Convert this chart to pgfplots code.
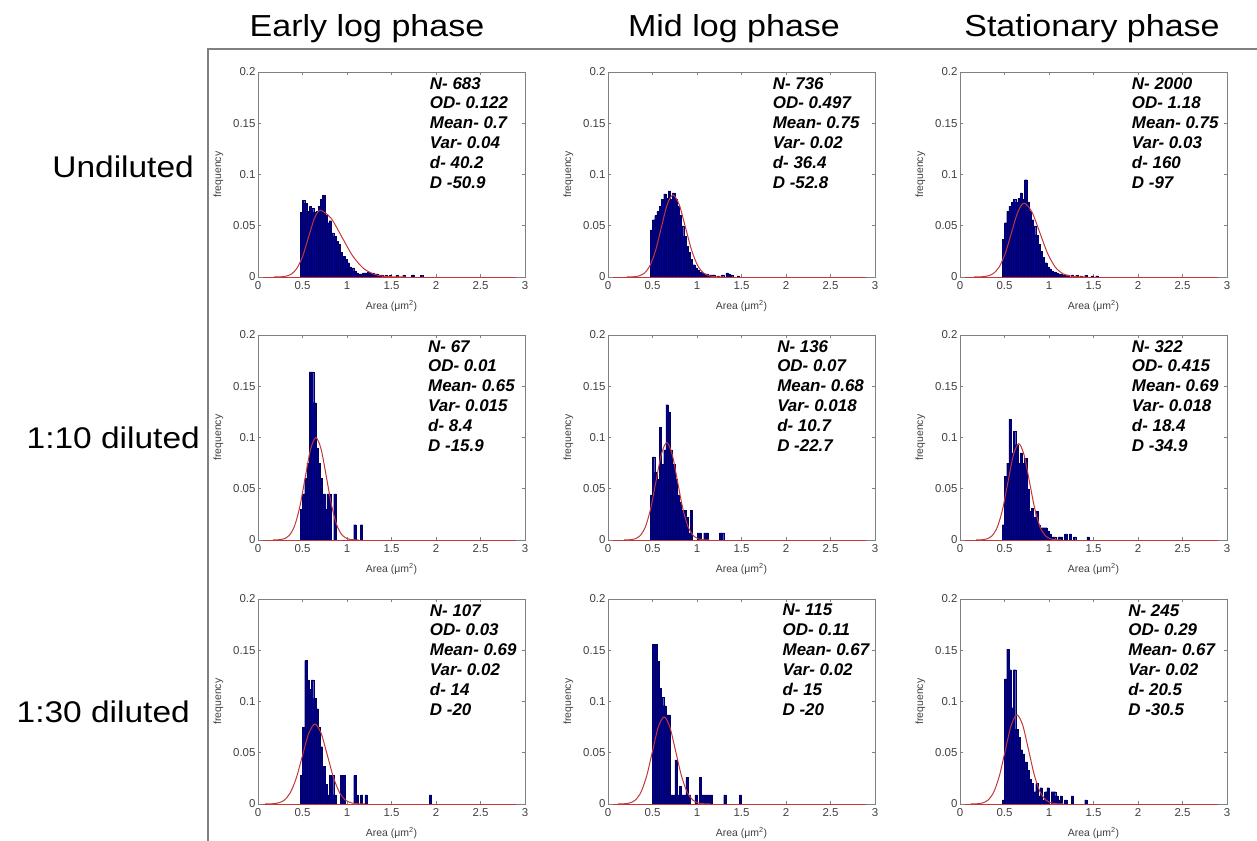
\documentclass[border=0pt]{standalone}
\usepackage{fontspec}
\setmainfont{Liberation Sans}
\newfontfamily\bigfont[FakeStretch=1.12]{Liberation Sans}
\usepackage{pgfplots}
\pgfplotsset{compat=1.18}
\definecolor{barblue}{RGB}{0,0,140}
\definecolor{fitred}{RGB}{195,55,55}
\definecolor{framegray}{RGB}{128,128,128}
\pgfplotsset{
  panel/.style={
    scale only axis, width=267bp, height=205bp, anchor=south west,
    xmin=0, xmax=3, ymin=0, ymax=0.2,
    xtick={0,0.5,1,1.5,2,2.5,3}, xticklabels={0,0.5,1,1.5,2,2.5,3},
    ytick={0,0.05,0.1,0.15,0.2}, yticklabels={0,0.05,0.1,0.15,0.2},
    tick align=inside, major tick length=3bp,
    axis line style={draw=gray, line width=0.8bp},
    every tick/.style={gray, line width=0.6bp},
    ticklabel style={font=\fontsize{11.5}{13}\selectfont, text=black!75},
    yticklabel style={xshift=1bp},
    xticklabel style={yshift=-1bp},
    xlabel={Area (μm\textsuperscript{2})}, ylabel={frequency},
    label style={font=\fontsize{10.5}{12}\selectfont, text=black!75},
    xlabel style={at={(axis description cs:0.5,-0.14)}, anchor=center},
    ylabel style={at={(axis description cs:-0.148,0.5)}, anchor=center},
  },
  bars/.style={ybar, bar width=0.025, bar shift=0pt, fill=barblue, draw=barblue!70!black, line width=0.2bp},
  fit/.style={fitred, line width=1bp, smooth, tension=0.5, mark=none},
  base/.style={fitred, line width=1bp, sharp plot, mark=none},
}
\tikzset{anno/.style={anchor=north west, inner sep=0pt, align=left, font=\fontsize{17}{20}\selectfont\bfseries\itshape}}
\begin{document}
\begin{tikzpicture}
\path[use as bounding box] (0,0) rectangle (1257bp,-841bp);
\draw[framegray, line width=2bp] (208bp,-841bp) -- (208bp,-49bp) -- (1257bp,-49bp);
\node[anchor=base, font=\fontsize{30.5}{34}\bigfont] at (367bp,-36bp) {Early log phase};
\node[anchor=base, font=\fontsize{30.5}{34}\bigfont] at (734bp,-36bp) {Mid log phase};
\node[anchor=base, font=\fontsize{30.5}{34}\bigfont] at (1092bp,-36bp) {Stationary phase};
\node[anchor=base east, font=\fontsize{30}{34}\bigfont, inner sep=0pt] at (194bp,-177bp) {Undiluted};
\node[anchor=base east, font=\fontsize{30}{34}\bigfont, inner sep=0pt] at (200bp,-448bp) {1:10 diluted};
\node[anchor=base east, font=\fontsize{30}{34}\bigfont, inner sep=0pt] at (190bp,-722bp) {1:30 diluted};

% ---------- Row 1 ----------
\begin{axis}[panel, at={(258bp,-277bp)}]
\addplot[bars] coordinates {(0.4875,0.063)(0.5125,0.075)(0.5375,0.072)(0.5625,0.064)(0.5875,0.069)(0.6125,0.067)(0.6375,0.063)(0.6625,0.064)(0.6875,0.069)(0.7125,0.076)(0.7375,0.080)(0.7625,0.060)(0.7875,0.053)(0.8125,0.055)(0.8375,0.043)(0.8625,0.040)(0.8875,0.035)(0.9125,0.032)(0.9375,0.024)(0.9625,0.020)(0.9875,0.017)(1.0125,0.014)(1.0375,0.010)(1.0625,0.009)(1.0875,0.006)(1.1125,0.004)(1.1375,0.003)(1.1625,0.003)(1.1875,0.004)(1.2125,0.004)(1.2375,0.005)(1.2625,0.004)(1.2875,0.004)(1.3125,0.003)(1.3375,0.003)(1.3625,0.002)(1.3875,0.002)(1.4375,0.0015)(1.4875,0.0015)(1.5625,0.0015)(1.6375,0.0015)(1.7375,0.002)(1.8375,0.0015)};
\addplot[base] coordinates {(0.06,0)(2.9,0)};
\addplot[fit] coordinates {(0.18,0.00002)(0.245,0.00014)(0.31,0.00072)(0.375,0.00285)(0.44,0.0088)(0.505,0.0211)(0.57,0.0394)(0.635,0.0574)(0.70,0.065)(0.82,0.0574)(0.94,0.0394)(1.06,0.0211)(1.18,0.0088)(1.30,0.00285)(1.42,0.00072)(1.54,0.00014)(1.66,0.00002)};
\node[anno] at (axis cs:1.93,0.1951) {N- 683\\OD- 0.122\\Mean- 0.7\\Var- 0.04\\d- 40.2\\D -50.9};
\end{axis}

\begin{axis}[panel, at={(608bp,-277bp)}]
\addplot[bars] coordinates {(0.4875,0.046)(0.5125,0.056)(0.5375,0.060)(0.5625,0.064)(0.5875,0.069)(0.6125,0.076)(0.6375,0.081)(0.6625,0.077)(0.6875,0.084)(0.7125,0.076)(0.7375,0.082)(0.7625,0.076)(0.7875,0.069)(0.8125,0.060)(0.8375,0.050)(0.8625,0.040)(0.8875,0.030)(0.9125,0.024)(0.9375,0.017)(0.9625,0.012)(0.9875,0.009)(1.0125,0.007)(1.0375,0.005)(1.0625,0.004)(1.0875,0.003)(1.1125,0.003)(1.1375,0.002)(1.1625,0.002)(1.1875,0.002)(1.2375,0.001)(1.2875,0.002)(1.3375,0.004)(1.3625,0.003)(1.3875,0.002)(1.4625,0.001)};
\addplot[base] coordinates {(0.06,0)(2.9,0)};
\addplot[fit] coordinates {(0.21,0.00002)(0.275,0.00018)(0.34,0.00089)(0.405,0.0035)(0.47,0.0108)(0.535,0.026)(0.60,0.0485)(0.665,0.0706)(0.73,0.08)(0.80,0.0706)(0.87,0.0485)(0.94,0.026)(1.01,0.0108)(1.08,0.0035)(1.15,0.00089)(1.22,0.00018)(1.29,0.00002)};
\node[anno] at (axis cs:1.85,0.1951) {N- 736\\OD- 0.497\\Mean- 0.75\\Var- 0.02\\d- 36.4\\D -52.8};
\end{axis}

\begin{axis}[panel, at={(960bp,-277bp)}]
\addplot[bars] coordinates {(0.4875,0.037)(0.5125,0.053)(0.5375,0.064)(0.5625,0.069)(0.5875,0.073)(0.6125,0.076)(0.6375,0.073)(0.6625,0.077)(0.6875,0.082)(0.7125,0.076)(0.7375,0.095)(0.7625,0.073)(0.7875,0.064)(0.8125,0.056)(0.8375,0.050)(0.8625,0.041)(0.8875,0.032)(0.9125,0.025)(0.9375,0.019)(0.9625,0.014)(0.9875,0.010)(1.0125,0.008)(1.0375,0.006)(1.0625,0.005)(1.0875,0.004)(1.1125,0.003)(1.1375,0.003)(1.1625,0.002)(1.1875,0.002)(1.2125,0.002)(1.2625,0.002)(1.3125,0.0015)(1.3625,0.001)(1.4125,0.0015)(1.4875,0.001)(1.5375,0.001)};
\addplot[base] coordinates {(0.06,0)(2.9,0)};
\addplot[fit] coordinates {(0.16,0.00002)(0.23,0.00016)(0.30,0.0008)(0.37,0.00316)(0.44,0.0097)(0.51,0.0234)(0.58,0.0437)(0.65,0.0635)(0.72,0.072)(0.8075,0.0635)(0.895,0.0437)(0.9825,0.0234)(1.07,0.0097)(1.1575,0.00316)(1.245,0.0008)(1.3325,0.00016)(1.42,0.00002)};
\node[anno] at (axis cs:1.93,0.1951) {N- 2000\\OD- 1.18\\Mean- 0.75\\Var- 0.03\\d- 160\\D -97};
\end{axis}

% ---------- Row 2 ----------
\begin{axis}[panel, at={(258bp,-540bp)}]
\addplot[bars] coordinates {(0.4875,0.030)(0.5125,0.045)(0.5375,0.060)(0.5625,0.075)(0.5875,0.164)(0.6125,0.164)(0.6375,0.134)(0.6625,0.090)(0.6875,0.075)(0.7125,0.060)(0.7375,0.045)(0.7625,0.030)(0.7875,0.045)(0.8125,0.045)(0.8625,0.045)(1.0875,0.015)(1.1625,0.015)};
\addplot[base] coordinates {(0.06,0)(2.9,0)};
\addplot[fit] coordinates {(0.17,0.00003)(0.23,0.00022)(0.29,0.00111)(0.35,0.00439)(0.41,0.01353)(0.47,0.03247)(0.53,0.06065)(0.59,0.08825)(0.65,0.1)(0.71,0.08825)(0.77,0.06065)(0.83,0.03247)(0.89,0.01353)(0.95,0.00439)(1.01,0.00111)(1.07,0.00022)(1.13,0.00003)};
\node[anno] at (axis cs:1.91,0.1951) {N- 67\\OD- 0.01\\Mean- 0.65\\Var- 0.015\\d- 8.4\\D -15.9};
\end{axis}

\begin{axis}[panel, at={(608bp,-540bp)}]
\addplot[bars] coordinates {(0.4875,0.044)(0.5125,0.081)(0.5375,0.066)(0.5625,0.059)(0.5875,0.110)(0.6125,0.074)(0.6375,0.088)(0.6625,0.132)(0.6875,0.125)(0.7125,0.088)(0.7375,0.074)(0.7625,0.059)(0.7875,0.044)(0.8125,0.037)(0.8375,0.029)(0.8625,0.029)(0.8875,0.022)(0.9125,0.007)(0.9375,0.029)(1.0125,0.007)(1.0375,0.007)(1.0875,0.007)(1.1125,0.007)(1.2625,0.007)(1.2875,0.007)};
\addplot[base] coordinates {(0.06,0)(2.9,0)};
\addplot[fit] coordinates {(0.18,0.00003)(0.24,0.00021)(0.30,0.00105)(0.36,0.00417)(0.42,0.01285)(0.48,0.03085)(0.54,0.05762)(0.60,0.08384)(0.66,0.095)(0.72,0.08384)(0.78,0.05762)(0.84,0.03085)(0.90,0.01285)(0.96,0.00417)(1.02,0.00105)(1.08,0.00021)(1.14,0.00003)};
\node[anno] at (axis cs:1.90,0.1951) {N- 136\\OD- 0.07\\Mean- 0.68\\Var- 0.018\\d- 10.7\\D -22.7};
\end{axis}

\begin{axis}[panel, at={(960bp,-540bp)}]
\addplot[bars] coordinates {(0.4875,0.015)(0.5125,0.062)(0.5375,0.075)(0.5625,0.118)(0.5875,0.085)(0.6125,0.106)(0.6375,0.093)(0.6625,0.075)(0.6875,0.085)(0.7125,0.075)(0.7375,0.080)(0.7625,0.050)(0.7875,0.028)(0.8125,0.031)(0.8375,0.022)(0.8625,0.028)(0.8875,0.015)(0.9125,0.012)(0.9375,0.012)(0.9625,0.012)(0.9875,0.009)(1.0125,0.006)(1.0375,0.003)(1.0625,0.003)(1.1125,0.003)(1.1375,0.003)(1.1875,0.006)(1.2375,0.006)(1.2875,0.003)(1.4375,0.003)};
\addplot[base] coordinates {(0.06,0)(2.9,0)};
\addplot[fit] coordinates {(0.18,0.00003)(0.24,0.00021)(0.30,0.00104)(0.36,0.00413)(0.42,0.01272)(0.48,0.03052)(0.54,0.05701)(0.60,0.08296)(0.66,0.094)(0.72,0.08296)(0.78,0.05701)(0.84,0.03052)(0.90,0.01272)(0.96,0.00413)(1.02,0.00104)(1.08,0.00021)(1.14,0.00003)};
\node[anno] at (axis cs:1.93,0.1951) {N- 322\\OD- 0.415\\Mean- 0.69\\Var- 0.018\\d- 18.4\\D -34.9};
\end{axis}

% ---------- Row 3 ----------
\begin{axis}[panel, at={(258bp,-804bp)}]
\addplot[bars] coordinates {(0.4875,0.028)(0.5125,0.075)(0.5375,0.140)(0.5625,0.121)(0.5875,0.112)(0.6125,0.121)(0.6375,0.103)(0.6625,0.093)(0.6875,0.075)(0.7125,0.056)(0.7375,0.037)(0.7625,0.019)(0.7875,0.009)(0.8125,0.028)(0.8375,0.028)(0.8625,0.009)(0.9375,0.028)(0.9625,0.028)(1.0875,0.028)(1.1125,0.009)(1.1625,0.009)(1.2125,0.009)(1.9375,0.009)};
\addplot[base] coordinates {(0.06,0)(2.9,0)};
\addplot[fit] coordinates {(0.08,0.00002)(0.15,0.00017)(0.22,0.00087)(0.29,0.00342)(0.36,0.01055)(0.43,0.02533)(0.50,0.04731)(0.57,0.06884)(0.64,0.078)(0.71,0.06884)(0.78,0.04731)(0.85,0.02533)(0.92,0.01055)(0.99,0.00342)(1.06,0.00087)(1.13,0.00017)(1.20,0.00002)};
\node[anno] at (axis cs:1.93,0.1951) {N- 107\\OD- 0.03\\Mean- 0.69\\Var- 0.02\\d- 14\\D -20};
\end{axis}

\begin{axis}[panel, at={(608bp,-804bp)}]
\addplot[bars] coordinates {(0.5125,0.156)(0.5375,0.156)(0.5625,0.139)(0.5875,0.113)(0.6125,0.104)(0.6375,0.096)(0.6625,0.087)(0.6875,0.087)(0.7125,0.009)(0.7375,0.009)(0.7625,0.043)(0.7875,0.009)(0.8125,0.017)(0.8375,0.009)(0.8625,0.009)(0.8875,0.026)(0.9125,0.009)(0.9875,0.009)(1.0375,0.026)(1.0625,0.009)(1.0875,0.009)(1.1125,0.009)(1.1375,0.009)(1.1625,0.009)(1.3125,0.009)(1.4875,0.009)};
\addplot[base] coordinates {(0.06,0)(2.9,0)};
\addplot[fit] coordinates {(0.11,0.00003)(0.175,0.00019)(0.24,0.00094)(0.305,0.00373)(0.37,0.0115)(0.435,0.0276)(0.50,0.05155)(0.565,0.07501)(0.63,0.085)(0.695,0.07501)(0.76,0.05155)(0.825,0.0276)(0.89,0.0115)(0.955,0.00373)(1.02,0.00094)(1.085,0.00019)(1.15,0.00003)};
\node[anno] at (axis cs:1.96,0.1951) {N- 115\\OD- 0.11\\Mean- 0.67\\Var- 0.02\\d- 15\\D -20};
\end{axis}

\begin{axis}[panel, at={(960bp,-804bp)}]
\addplot[bars] coordinates {(0.4875,0.004)(0.5125,0.122)(0.5375,0.151)(0.5625,0.131)(0.5875,0.094)(0.6125,0.131)(0.6375,0.073)(0.6625,0.065)(0.6875,0.053)(0.7125,0.049)(0.7375,0.041)(0.7625,0.033)(0.7875,0.024)(0.8125,0.020)(0.8375,0.012)(0.8625,0.020)(0.8875,0.008)(0.9125,0.016)(0.9375,0.004)(0.9625,0.012)(0.9875,0.016)(1.0375,0.012)(1.0625,0.012)(1.0875,0.008)(1.1125,0.004)(1.1375,0.008)(1.1875,0.004)(1.2625,0.008)(1.4125,0.004)};
\addplot[base] coordinates {(0.06,0)(2.9,0)};
\addplot[fit] coordinates {(0.12,0.00003)(0.185,0.00019)(0.25,0.00097)(0.315,0.00382)(0.38,0.01177)(0.445,0.02825)(0.51,0.05277)(0.575,0.07678)(0.64,0.087)(0.705,0.07678)(0.77,0.05277)(0.835,0.02825)(0.90,0.01177)(0.965,0.00382)(1.03,0.00097)(1.095,0.00019)(1.16,0.00003)};
\node[anno] at (axis cs:1.89,0.1951) {N- 245\\OD- 0.29\\Mean- 0.67\\Var- 0.02\\d- 20.5\\D -30.5};
\end{axis}
\end{tikzpicture}
\end{document}
